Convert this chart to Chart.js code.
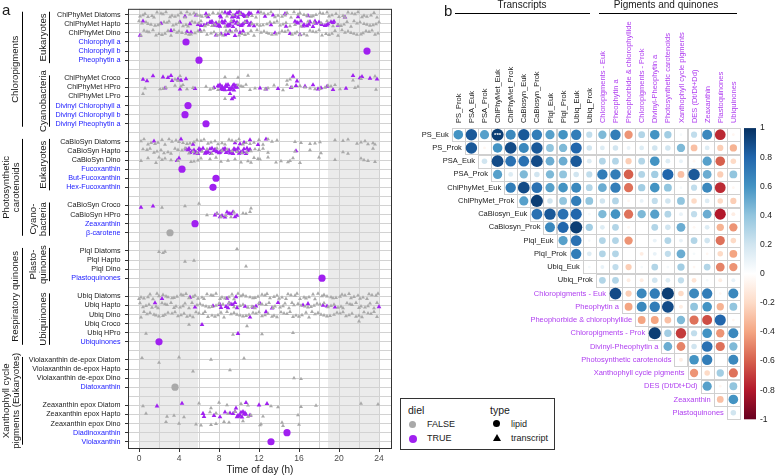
<!DOCTYPE html>
<html>
<head>
<meta charset="utf-8">
<script src="https://cdn.jsdelivr.net/npm/chart.js@4.4.1/dist/chart.umd.min.js"></script>
<style>
  html, body { margin: 0; padding: 0; background: #fff; }
  #wrap { position: relative; width: 778px; height: 476px; overflow: hidden; font-family: "Liberation Sans", Arial, sans-serif; }
  #cA { position: absolute; left: 0; top: 0; }
  #cB { position: absolute; left: 380px; top: 0; }
  #legend { position: absolute; left: 400px; top: 398px; width: 153px; height: 50px; border: 1px solid #333; background: #fff; z-index: 2; }
  #legend div { position: absolute; white-space: nowrap; line-height: 1; color: #1a1a1a; }
  #legend .ttl { font-size: 10.5px; }
  #legend .itm { font-size: 9px; }
  #legend .dot { position: absolute; border-radius: 50%; }
  #legend .tri { position: absolute; width: 0; height: 0; border-left: 4px solid transparent; border-right: 4px solid transparent; border-bottom: 7px solid #000; }
</style>
</head>
<body>
<div id="wrap">
  <canvas id="cA" width="400" height="476"></canvas>
  <canvas id="cB" width="398" height="476"></canvas>
  <div id="legend">
    <div class="ttl" style="left:7px;top:6px">diel</div>
    <span class="dot" style="left:8px;top:22px;width:7px;height:7px;background:#a9a9a9"></span>
    <div class="itm" style="left:26px;top:21px">FALSE</div>
    <span class="dot" style="left:8px;top:36px;width:8px;height:8px;background:#a020f0"></span>
    <div class="itm" style="left:26px;top:35px">TRUE</div>
    <div class="ttl" style="left:89px;top:6px">type</div>
    <span class="dot" style="left:92px;top:21px;width:7px;height:7px;background:#000"></span>
    <div class="itm" style="left:110px;top:21px">lipid</div>
    <span class="tri" style="left:92px;top:35px"></span>
    <div class="itm" style="left:110px;top:35px">transcript</div>
  </div>
</div>
<script>
// ---------- panel a: rows (blank = spacer between groups) ----------
const rowLabels = [
  'ChlPhyMet Diatoms', 'ChlPhyMet Hapto', 'ChlPhyMet Dino', 'Chlorophyll a', 'Chlorophyll b', 'Pheophytin a', '',
  'ChlPhyMet Croco', 'ChlPhyMet HPro', 'ChlPhyMet LPro', 'Divinyl Chlorophyll a', 'Divinyl Chlorophyll b', 'Divinyl Pheophytin a', '',
  'CaBioSyn Diatoms', 'CaBioSyn Hapto', 'CaBioSyn Dino', 'Fucoxanthin', 'But-Fucoxanthin', 'Hex-Fucoxanthin', '',
  'CaBioSyn Croco', 'CaBioSyn HPro', 'Zeaxanthin', 'β-carotene', '',
  'PlqI Diatoms', 'PlqI Hapto', 'PlqI Dino', 'Plastoquinones', '',
  'Ubiq Diatoms', 'Ubiq Hapto', 'Ubiq Dino', 'Ubiq Croco', 'Ubiq HPro', 'Ubiquinones', '',
  'Violaxanthin de-epox Diatom', 'Violaxanthin de-epox Hapto', 'Violaxanthin de-epox Dino', 'Diatoxanthin', '',
  'Zeaxanthin epox Diatom', 'Zeaxanthin epox Hapto', 'Zeaxanthin epox Dino', 'Diadinoxanthin', 'Violaxanthin'
];
const xTicks = [0, 2, 4, 6, 8, 10, 12, 14, 16, 18, 20, 22, 24];
const nightBands = [[0, 5.9], [18.9, 24]];

// lipids (one measurement per compound): time of peak, diel flag
const lipidNames = ['Chlorophyll a', 'Chlorophyll b', 'Pheophytin a', 'Divinyl Chlorophyll a', 'Divinyl Chlorophyll b',
  'Divinyl Pheophytin a', 'Fucoxanthin', 'But-Fucoxanthin', 'Hex-Fucoxanthin', 'Zeaxanthin', 'β-carotene',
  'Plastoquinones', 'Ubiquinones', 'Diatoxanthin', 'Diadinoxanthin', 'Violaxanthin'];
const lipidTimes = [4.7, 22.8, 6.0, 4.9, 4.6, 6.7, 4.3, 7.7, 7.4, 5.6, 3.1, 18.3, 2.0, 3.6, 14.8, 13.2];
const lipidDiel = [true, true, true, true, true, true, true, true, true, true, false, true, true, false, true, true];

// transcripts: peak times, F = not diel (grey), T = diel (purple)
const chlDiatomsF = [0.1,0.4,0.6,0.9,1.3,1.5,1.8,2.2,2.4,2.7,3.1,3.3,3.6,3.9,4.2,4.6,4.8,5.1,5.5,5.8,6.1,6.3,6.7,7.0,7.4,7.9,8.3,8.8,9.4,10.1,10.8,11.3,11.7,12.2,12.5,12.9,13.2,13.6,13.9,14.3,14.6,14.8,15.2,15.5,15.9,16.1,16.5,16.8,17.2,17.4,17.7,18.1,18.4,18.8,19.0,19.3,19.7,20.0,20.4,20.6,20.9,21.3,21.6,21.9,22.3,22.5,22.8,23.2,23.5,23.8];
const chlDiatomsT = [4.6,5.7,6.7,6.9,8.1,8.2,8.6,8.9,9.0,9.1,9.3,9.4,9.5,9.6,9.8,9.9,10.0,10.1,10.2,10.4,10.5,10.6,10.8,10.9,11.0,11.2,11.9,12.6,13.4,14.6,15.9,16.9,20.6];
const chlHaptoF = [0.0,0.3,0.7,0.9,1.2,1.6,1.9,2.1,2.5,2.8,3.0,3.4,3.7,4.0,4.4,4.7,4.9,5.3,5.6,6.0,6.2,6.6,6.9,7.3,7.6,8.0,8.6,9.2,9.9,10.6,11.3,11.8,12.1,12.4,12.8,13.1,13.5,13.8,14.1,14.4,14.7,15.1,15.6,16.2,16.9,17.5,18.2,18.8,19.4,19.9,20.2,20.5,20.8,21.2,21.5,21.8,22.1,22.5,22.8,23.1,23.4,23.7,24.0];
const chlHaptoT = [0.4,2.2,4.1,5.1,5.9,6.2,6.5,6.8,7.1,7.2,7.3,7.5,7.6,7.7,7.9,8.0,8.1,8.3,8.4,8.5,8.6,8.8,8.9,9.0,9.1,9.3,9.4,9.5,9.7,9.8,9.9,10.0,10.2,10.3,10.4,10.6,10.7,10.8,11.0,11.1,11.2,11.5,13.2,14.7,15.6,15.8,15.9,16.2,16.4,16.5,16.8,17.0,17.1,17.4,17.6,17.7,18.0,18.2,18.3,18.6,18.8,18.9,19.2,19.4,19.5,19.9];
const chlDinoF = [0.2,0.5,0.8,1.0,1.4,1.7,2.0,2.3,2.6,2.9,3.2,3.5,3.8,4.0,4.3,4.7,5.0,5.2,5.6,5.9,6.2,6.5,6.8,7.2,7.5,7.8,8.1,8.4,8.7,9.0,9.3,9.7,10.0,10.3,10.6,10.9,11.2,11.5,11.8,12.2,12.5,12.8,13.0,13.3,13.7,14.0,14.3,14.6,14.9,15.3,15.6,15.8,16.1,16.5,16.8,17.1,17.4,17.7,18.0,18.3,18.7,19.0,19.3,19.6,19.9,20.3,20.6,20.9,21.2,21.5,21.8,22.2,22.4,22.7,23.0,23.3,23.6,23.9];
const chlDinoT = [0.1,3.2,4.8,5.2,6.1,7.7,8.2,8.6,8.9,9.1,9.6,9.7,10.1,10.4,13.6,15.1,16.1];
const chlCrocoF = [3.6,3.9,4.1,8.6,9.9,10.9,14.8,15.1,21.4,22.2,23.6];
const chlCrocoT = [0.4,0.8,1.4,2.4,2.9,3.2,3.3,3.9,4.2,4.7,15.4,15.8,21.4,22.1,22.3,23.1,23.8];
const chlHProF = [0.6,2.1,2.4,2.7,3.6,4.2,4.4,4.8,5.4,6.7,7.1,7.4,7.9,9.9,10.2,10.4,10.7,11.1,11.6,12.6,12.9,13.5,14.4,14.8,15.3,16.1,16.6,17.1,17.6,18.1,18.6,18.9,19.2,19.6,20.1,21.6,21.9,23.7];
const chlHProT = [2.6,4.1,5.6,7.5,7.9,8.0,8.1,8.2,8.3,8.3,8.4,8.5,8.6,8.7,8.7,8.8,8.9,9.0,9.1,9.2,9.3,9.4,9.5,9.5,9.6,9.7,9.8,12.1,12.7,13.9,15.2,15.7,16.6,17.4,17.9,18.2,18.8,19.4,20.7];
const chlLProF = [0.4, 8.6];
const chlLProT = [9.1, 9.3, 9.5];
const caDiatomsF = [0.2,0.5,0.9,1.2,1.6,1.9,2.3,2.6,3.0,3.3,3.7,4.0,4.4,4.8,5.1,5.5,5.8,6.2,6.5,6.9,7.2,7.6,7.9,8.3,8.6,9.0,9.3,9.7,10.0,10.4,10.7,11.1,11.5,12.0,12.4,12.9,13.3,13.8,15.6,16.2,17.1,17.6,18.1,19.6,20.4,20.9,21.8,22.2,22.6,22.9,23.4,23.6];
const caDiatomsT = [1.5,4.2,5.4,9.6,10.1,10.5,11.1,11.9,12.7];
const caHaptoF = [0.4,0.8,1.1,1.5,1.8,2.2,2.5,2.9,3.2,3.6,3.9,4.3,4.6,5.0,5.4,5.8,6.3,6.8,7.3,7.8,8.3,8.8,9.3,9.8,10.3,10.8,11.2,11.6,12.0,12.4,12.9,15.6,17.1,18.2,20.4,20.9,23.4];
const caHaptoT = [4.7,4.9,5.0,5.1,5.3,5.5,5.6,5.7,5.9,6.0,6.1,6.2,6.4,6.6,6.7,6.8,6.9,7.1,7.2,7.3,7.5,7.6,7.7,7.8,8.0,8.1,8.2,8.4,8.5,8.6,8.7,8.9,9.0,9.1,9.3,9.4,9.5,9.6,9.8,9.9,10.0,10.2,10.3,10.4,10.5,10.7,10.8,10.9,11.1,15.7];
const caDinoF = [0.2,0.9,1.7,2.0,2.3,2.6,3.2,3.9,5.2,5.5,5.9,6.2,7.1,7.7,8.2,8.9,9.6,10.2,10.9,11.2,11.5,11.9,12.1,12.9,13.7,14.2,14.9,15.1,15.4,16.1,18.0,19.6,22.2,22.5,22.9,23.6];
const caDinoT = [3.8, 4.0];
const caCrocoF = [2.3, 4.6, 6.0, 11.2];
const caCrocoT = [0.2, 1.4];
const caHProF = [6.8, 7.8, 8.2, 8.7, 9.2, 9.5, 10.4, 10.7, 11.1];
const caHProT = [7.6, 7.8, 8.1, 8.3, 8.6, 8.8, 9.0, 9.2, 9.4, 9.6, 9.8];
const plqDiatomsF = [2.0, 2.4, 2.6, 9.8];
const plqHaptoF = [4.6, 5.5];
const plqDinoF = [10.7];
const ubiqDiatomsF = [0.0,0.2,0.5,0.9,1.1,1.4,1.8,2.0,2.4,2.7,2.9,3.3,3.5,3.8,4.2,4.4,4.7,5.0,5.4,5.6,5.9,6.3,6.5,6.8,7.2,7.4,7.7,8.1,8.3,8.6,9.0,9.3,9.5,9.9,10.2,10.4,10.7,11.1,11.4,11.6,11.9,12.3,12.6,12.8,13.1,13.5,13.8,14.0,14.3,14.7,14.9,15.2,15.6,15.8,16.1,16.5,16.7,17.0,17.4,17.6,17.9,18.3,18.5,18.8,19.2,19.4,19.7,20.1,20.3,20.6,21.0,21.2,21.5,21.9,22.1,22.4,22.8,23.0,23.3,23.7,23.9];
const ubiqDiatomsT = [2.3, 5.1, 8.8, 9.7];
const ubiqHaptoF = [0.1,0.4,0.7,1.0,1.3,1.7,1.9,2.3,2.6,2.8,3.2,3.5,3.7,4.1,4.4,4.6,5.0,5.3,5.8,6.1,6.4,6.7,7.0,7.3,7.7,8.0,8.4,9.0,9.5,10.1,10.4,10.9,11.3,11.6,12.0,12.3,12.7,13.0,13.4,13.6,14.1,14.4,14.6,15.0,15.3,15.5,15.9,16.2,16.6,16.9,17.2,17.5,17.8,18.1,18.5,18.9,19.2,19.5,19.9,20.2,20.4,20.8,21.1,21.3,21.7,22.0,22.2,22.6,22.9,23.1,23.5,23.8];
const ubiqHaptoT = [1.6,5.6,7.4,8.1,8.2,8.7,8.9,9.0,9.2,9.4,9.6,9.8,10.6,11.4,11.7,12.1,13.3,13.9,16.4,16.9,18.4,18.8,19.6,24.0];
const ubiqDinoF = [0.2,0.5,0.8,1.1,1.5,1.7,2.0,2.4,2.6,2.9,3.3,3.6,3.9,4.2,4.5,4.8,5.1,5.4,5.7,6.0,6.4,6.6,6.9,7.3,7.6,7.9,8.2,8.5,8.8,9.2,9.5,9.8,10.1,10.4,10.7,11.0,11.4,11.7,12.0,12.3,12.6,12.9,13.3,13.5,13.8,14.2,14.5,14.8,15.1,15.4,15.7,16.0,16.3,16.7,17.0,17.3,17.6,17.9,18.2,18.5,18.8,19.1,19.5,19.8,20.1,20.4,20.7,21.0,21.3,21.7,22.0,22.3,22.5,22.9,23.2,23.5,23.8];
const ubiqDinoT = [11.1, 12.7];
const ubiqCrocoF = [5.0, 10.8, 22.0];
const ubiqCrocoT = [6.3];
const ubiqHProF = [0.7, 9.4, 12.3, 15.4];
const ubiqHProT = [9.9];
const vdeDiatomF = [0.3, 2.0, 4.0, 7.2, 10.5];
const vdeHaptoF = [5.4, 9.1];
const vdeDinoF = [15.5, 16.2];
const zepDiatomF = [0.4, 6.0, 7.2, 8.0, 8.8, 10.2, 10.9, 13.2, 13.9, 16.2, 17.7, 22.2, 23.9];
const zepDiatomT = [1.8, 4.3, 9.7, 10.7, 12.0, 12.8];
const zepHaptoF = [0.7, 2.8, 3.5, 4.5, 7.1, 7.7, 8.9, 9.6, 10.9, 11.2, 12.4, 15.9];
const zepHaptoT = [6.4, 6.5, 7.5, 8.1, 8.6, 9.1, 9.4, 9.6, 9.8, 9.9, 10.0, 10.1, 10.2, 10.3, 10.4, 10.5, 10.6, 10.7, 11.1];
const zepDinoF = [2.7, 4.0, 5.7, 6.2, 7.2, 7.7, 8.5, 9.0, 10.4, 12.1, 12.2, 14.3, 14.4, 16.0];

// row name -> [grey, purple]
const transcriptRows = [
  ['ChlPhyMet Diatoms', chlDiatomsF, chlDiatomsT], ['ChlPhyMet Hapto', chlHaptoF, chlHaptoT],
  ['ChlPhyMet Dino', chlDinoF, chlDinoT], ['ChlPhyMet Croco', chlCrocoF, chlCrocoT],
  ['ChlPhyMet HPro', chlHProF, chlHProT], ['ChlPhyMet LPro', chlLProF, chlLProT],
  ['CaBioSyn Diatoms', caDiatomsF, caDiatomsT], ['CaBioSyn Hapto', caHaptoF, caHaptoT],
  ['CaBioSyn Dino', caDinoF, caDinoT], ['CaBioSyn Croco', caCrocoF, caCrocoT],
  ['CaBioSyn HPro', caHProF, caHProT], ['PlqI Diatoms', plqDiatomsF, []],
  ['PlqI Hapto', plqHaptoF, []], ['PlqI Dino', plqDinoF, []],
  ['Ubiq Diatoms', ubiqDiatomsF, ubiqDiatomsT], ['Ubiq Hapto', ubiqHaptoF, ubiqHaptoT],
  ['Ubiq Dino', ubiqDinoF, ubiqDinoT], ['Ubiq Croco', ubiqCrocoF, ubiqCrocoT],
  ['Ubiq HPro', ubiqHProF, ubiqHProT], ['Violaxanthin de-epox Diatom', vdeDiatomF, []],
  ['Violaxanthin de-epox Hapto', vdeHaptoF, []], ['Violaxanthin de-epox Dino', vdeDinoF, []],
  ['Zeaxanthin epox Diatom', zepDiatomF, zepDiatomT], ['Zeaxanthin epox Hapto', zepHaptoF, zepHaptoT],
  ['Zeaxanthin epox Dino', zepDinoF, []]
];

const outerGroups = [
  { lines: ['Chloropigments'], from: 0, to: 12 },
  { lines: ['Photosynthetic', 'carotenoids'], from: 14, to: 24 },
  { lines: ['Respiratory quinones'], from: 26, to: 36 },
  { lines: ['Xanthophyll cycle', 'pigments (Eukaryotes)'], from: 38, to: 47 }
];
const innerGroups = [
  { lines: ['Eukaryotes'], from: 0, to: 5 },
  { lines: ['Cyanobacteria'], from: 7, to: 12 },
  { lines: ['Eukaryotes'], from: 14, to: 19 },
  { lines: ['Cyano-', 'bacteria'], from: 21, to: 24 },
  { lines: ['Plasto-', 'quinones'], from: 26, to: 29 },
  { lines: ['Ubiquinones'], from: 31, to: 36 }
];

// ---------- panel b: correlation matrix (upper triangle, row i starts at column i) ----------
const corrRows = ['PS_Euk', 'PS_Prok', 'PSA_Euk', 'PSA_Prok', 'ChlPhyMet_Euk', 'ChlPhyMet_Prok', 'CaBiosyn_Euk',
  'CaBiosyn_Prok', 'PlqI_Euk', 'PlqI_Prok', 'Ubiq_Euk', 'Ubiq_Prok', 'Chloropigments - Euk', 'Pheophytin a',
  'Pheophorbide & chlorophyllide', 'Chloropigments - Prok', 'Divinyl-Pheophytin a', 'Photosynthetic carotenoids',
  'Xanthophyll cycle pigments', 'DES (Dt/Dt+Dd)', 'Zeaxanthin', 'Plastoquinones'];
const corrCols = ['PS_Prok', 'PSA_Euk', 'PSA_Prok', 'ChlPhyMet_Euk', 'ChlPhyMet_Prok', 'CaBiosyn_Euk', 'CaBiosyn_Prok',
  'PlqI_Euk', 'PlqI_Prok', 'Ubiq_Euk', 'Ubiq_Prok', 'Chloropigments - Euk', 'Pheophytin a',
  'Pheophorbide & chlorophyllide', 'Chloropigments - Prok', 'Divinyl-Pheophytin a', 'Photosynthetic carotenoids',
  'Xanthophyll cycle pigments', 'DES (Dt/Dt+Dd)', 'Zeaxanthin', 'Plastoquinones', 'Ubiquinones'];
const CORR = [
  [0.6,0.85,0.55,0.95,0.65,0.85,0.7,0.55,0.6,0.7,0.25,0.45,0.7,-0.45,0.3,0.6,0.35,0.05,0.25,0.65,-0.75,-0.05],
  [0.85,-0.05,0.6,0.9,0.65,0.85,0.4,0.45,0.8,0.2,0.15,0.2,0.1,0.15,0.2,0.2,0.45,-0.3,0.15,-0.25,-0.35],
  [0.2,0.9,0.75,0.75,0.9,0.5,0.5,0.85,0.15,0.3,0.3,-0.25,0.3,0.6,0.15,0.1,-0.05,0.55,-0.6,-0.2],
  [0.55,0.15,0.45,0.2,0.45,0.4,0.2,0.25,0.7,0.7,-0.6,0.3,0.35,0.8,-0.3,0.85,0.5,-0.25,0.4],
  [0.7,0.9,0.75,0.55,0.6,0.65,0.3,0.5,0.7,-0.55,0.35,0.6,0.4,0.05,0.25,0.65,-0.75,-0.05],
  [0.55,0.95,0.2,0.4,0.7,0.4,0.2,0.3,-0.05,0.1,0.25,0.2,0.4,-0.2,0.15,-0.2,-0.25],
  [0.75,0.85,0.75,0.8,0.05,0.45,0.6,-0.55,0.45,0.55,0.3,0.1,0.25,0.5,-0.8,-0.1],
  [0.65,0.8,0.95,0.35,0.15,0.3,-0.05,0,0.3,0.2,0.5,-0.05,0.15,-0.35,-0.45],
  [0.55,0.75,0.05,0.3,0.3,-0.45,0,0.1,0.3,0.1,0.3,0.2,-0.55,-0.2],
  [0.7,0.15,0.3,0.3,0,-0.1,0.1,0.25,0.5,0.05,-0.05,-0.2,-0.4],
  [0.05,0.1,0.25,-0.25,0.05,0.3,0.05,0.35,-0.05,0.3,-0.5,-0.45],
  [0.3,0.3,-0.1,-0.1,0.2,0.15,0.25,-0.15,0.05,-0.1,0.1],
  [0.9,-0.25,0.65,0.7,0.95,-0.2,0.65,0.7,-0.05,0.65],
  [-0.4,0.65,0.7,0.9,-0.1,0.4,0.6,-0.35,0.4],
  [-0.4,-0.4,-0.3,0.45,-0.55,-0.65,0.8,-0.05],
  [0.95,0.35,-0.7,0.25,0.6,-0.45,0.65],
  [0.5,-0.5,0.2,0.75,-0.55,0.45],
  [-0.1,0.6,0.7,0,0.65],
  [-0.45,-0.2,0.35,-0.55],
  [0.55,-0.05,0.4],
  [-0.3,0.6],
  [0.2]
];
const colorbarTicks = [1, 0.8, 0.6, 0.4, 0.2, 0, -0.2, -0.4, -0.6, -0.8, -1];

// ---------- styling ----------
var GREY = '#a9a9a9', PURPLE = '#a020f0', BLUE = '#2020ff', INK = '#1a1a1a', PINK_TXT = '#b040f0';
var FONT = '"Liberation Sans", Arial, sans-serif';
var OFFB = 380; // page x of panel b canvas
// fixed vertical jitter pattern (in row units), like geom_jitter
var JITTER = [0.18,-0.22,0.05,0.3,-0.1,-0.3,0.24,-0.04,0.12,-0.18,0.28,0.0,-0.26,0.09,-0.14,0.2,-0.08,0.15,-0.3,0.02,0.26,-0.2,0.1,-0.12,0.22,-0.27,0.07];
var RDBU = ['#67001F','#B2182B','#D6604D','#F4A582','#FDDBC7','#FFFFFF','#D1E5F0','#92C5DE','#4393C3','#2166AC','#053061'];

function hexRgb(h) { return [1, 3, 5].map(i => parseInt(h.substr(i, 2), 16)); }
function rdbu(v) {
    var t = Math.max(0, Math.min(1, (v + 1) / 2)) * 10;
    var i = Math.min(9, Math.floor(t)), f = t - i;
    var a = hexRgb(RDBU[i]), b = hexRgb(RDBU[i + 1]);
    var c = a.map((x, k) => Math.round(x + (b[k] - x) * f));
    return 'rgb(' + c.join(',') + ')';
}

function transcriptPoints(k) {
    var out = [];
    transcriptRows.forEach(function(r) {
        var row = rowLabels.indexOf(r[0]);
        r[k].forEach(function(t, i) {
            out.push({ x: t, y: row + JITTER[(i * 2 + row * 5) % JITTER.length] });
        });
    });
    return out;
}
function lipidPoints(flag) {
    return lipidNames.map((n, i) => ({ x: lipidTimes[i], y: rowLabels.indexOf(n), d: lipidDiel[i] }))
        .filter(p => p.d === flag);
}

function vText(ctx, text, x, y) {
    ctx.save();
    ctx.translate(x, y);
    ctx.rotate(-Math.PI / 2);
    ctx.fillText(text, 0, 0);
    ctx.restore();
}

// shading, frame and the left-hand group brackets
var panelAPlugin = {
    id: 'panelA',
    beforeDraw: function(chart) {
        var ctx = chart.ctx, a = chart.chartArea, x = chart.scales.x;
        ctx.save();
        ctx.fillStyle = '#ebebeb';
        nightBands.forEach(function(b) {
            var x0 = x.getPixelForValue(b[0]), x1 = x.getPixelForValue(b[1]);
            ctx.fillRect(x0, a.top, x1 - x0, a.bottom - a.top);
        });
        ctx.restore();
    },
    afterDraw: function(chart) {
        var ctx = chart.ctx, a = chart.chartArea, y = chart.scales.y;
        ctx.save();
        ctx.strokeStyle = '#333';
        ctx.lineWidth = 1;
        ctx.strokeRect(a.left + 0.5, a.top + 0.5, a.right - a.left - 1, a.bottom - a.top - 1);

        ctx.fillStyle = INK;
        ctx.strokeStyle = '#000';
        ctx.font = '9.6px ' + FONT;
        ctx.textAlign = 'center';
        ctx.textBaseline = 'middle';
        function bracket(g, lineX, oneX, twoX) {
            var y0 = y.getPixelForValue(g.from) - 3, y1 = y.getPixelForValue(g.to) + 3;
            ctx.beginPath();
            ctx.moveTo(lineX, y0);
            ctx.lineTo(lineX, y1);
            ctx.stroke();
            var mid = (y0 + y1) / 2;
            if (g.lines.length === 1) vText(ctx, g.lines[0], oneX, mid);
            else g.lines.forEach((t, i) => vText(ctx, t, twoX[i], mid));
        }
        outerGroups.forEach(g => bracket(g, 22.5, 15, [6, 16]));
        innerGroups.forEach(g => bracket(g, 49.5, 43, [33, 43]));

        ctx.font = '15px ' + FONT;
        ctx.textAlign = 'left';
        ctx.textBaseline = 'alphabetic';
        ctx.fillText('a', 2, 15);
        ctx.restore();
    }
};

new Chart(document.getElementById('cA'), {
    type: 'scatter',
    data: {
        datasets: [
            { data: transcriptPoints(1), pointStyle: 'triangle', pointRadius: 2.3, backgroundColor: GREY, borderWidth: 0 },
            { data: transcriptPoints(2), pointStyle: 'triangle', pointRadius: 2.7, backgroundColor: PURPLE, borderWidth: 0 },
            { data: lipidPoints(false), pointStyle: 'circle', pointRadius: 3.6, backgroundColor: GREY, borderWidth: 0 },
            { data: lipidPoints(true), pointStyle: 'circle', pointRadius: 3.6, backgroundColor: PURPLE, borderWidth: 0 }
        ]
    },
    options: {
        responsive: false,
        animation: false,
        events: [],
        layout: { padding: { top: 8, right: 8, left: 0, bottom: 0 } },
        plugins: { legend: { display: false }, tooltip: { enabled: false } },
        scales: {
            x: {
                type: 'linear', min: -1.1, max: 25.3,
                afterBuildTicks: function(s) { s.ticks = xTicks.map(v => ({ value: v })); },
                afterFit: function(s) { s.height = 27; },
                grid: {
                    color: '#d2d2d2', lineWidth: 1, tickLength: 3,
                    tickColor: c => (c.tick && c.tick.value % 4 === 0) ? '#333' : 'rgba(0,0,0,0)'
                },
                border: { display: false },
                ticks: {
                    padding: 2, color: '#4d4d4d', font: { family: FONT, size: 8.5 },
                    callback: v => (v % 4 === 0 ? String(v) : '')
                },
                title: { display: true, text: 'Time of day (h)', color: INK, font: { family: FONT, size: 10 }, padding: { top: 0, bottom: 0 } }
            },
            y: {
                type: 'linear', min: -0.65, max: 47.8, reverse: true,
                afterBuildTicks: function(s) { s.ticks = rowLabels.map((_, i) => ({ value: i })); },
                afterFit: function(s) { s.width = 128; },
                grid: {
                    color: '#d2d2d2', lineWidth: 1, tickLength: 3,
                    tickColor: c => (c.tick && rowLabels[c.tick.value]) ? '#333' : 'rgba(0,0,0,0)'
                },
                border: { display: false },
                ticks: {
                    autoSkip: false, padding: 4.5, font: { family: FONT, size: 7.2 },
                    color: c => (c.tick && lipidNames.indexOf(rowLabels[c.tick.value]) >= 0) ? BLUE : INK,
                    callback: v => rowLabels[v] || ''
                }
            }
        }
    },
    plugins: [panelAPlugin]
});

// ---------- panel b ----------
var corrPoints = [];
CORR.forEach(function(vals, i) {
    vals.forEach(function(v, k) { corrPoints.push({ x: i + k, y: i, v: v }); });
});

var panelBPlugin = {
    id: 'panelB',
    beforeDatasetsDraw: function(chart) {
        var ctx = chart.ctx, x = chart.scales.x, y = chart.scales.y;
        var cw = x.getPixelForValue(1) - x.getPixelForValue(0);
        var ch = y.getPixelForValue(1) - y.getPixelForValue(0);
        ctx.save();
        ctx.strokeStyle = '#d0d0d0';
        ctx.lineWidth = 1;
        corrPoints.forEach(function(p) {
            var cx = x.getPixelForValue(p.x), cy = y.getPixelForValue(p.y);
            ctx.strokeRect(Math.round(cx - cw / 2) + 0.5, Math.round(cy - ch / 2) + 0.5, Math.round(cw), Math.round(ch));
        });
        ctx.restore();
    },
    afterDraw: function(chart) {
        var ctx = chart.ctx, a = chart.chartArea, x = chart.scales.x, y = chart.scales.y;
        var cw = x.getPixelForValue(1) - x.getPixelForValue(0);
        ctx.save();
        ctx.font = '7.5px ' + FONT;
        ctx.textBaseline = 'middle';

        // row labels sit on the diagonal
        ctx.textAlign = 'right';
        corrRows.forEach(function(r, i) {
            ctx.fillStyle = i < 12 ? INK : PINK_TXT;
            ctx.fillText(r, x.getPixelForValue(i) - cw / 2 - 3, y.getPixelForValue(i));
        });
        // column labels, vertical
        ctx.textAlign = 'left';
        corrCols.forEach(function(c, j) {
            ctx.fillStyle = j < 11 ? INK : PINK_TXT;
            vText(ctx, c, x.getPixelForValue(j) + 0.5, a.top - 5);
        });

        // *** in the strongest cell
        ctx.fillStyle = '#fff';
        ctx.textAlign = 'center';
        ctx.font = 'bold 6px ' + FONT;
        ctx.fillText('***', x.getPixelForValue(3), y.getPixelForValue(0) + 1);

        // headers
        ctx.fillStyle = INK;
        ctx.font = '10px ' + FONT;
        ctx.fillText('Transcripts', 522 - OFFB, 5);
        ctx.fillText('Pigments and quinones', 666 - OFFB, 5);
        ctx.strokeStyle = '#000';
        ctx.lineWidth = 1;
        ctx.beginPath();
        ctx.moveTo(455 - OFFB, 13.5); ctx.lineTo(590 - OFFB, 13.5);
        ctx.moveTo(599 - OFFB, 13.5); ctx.lineTo(737 - OFFB, 13.5);
        ctx.stroke();

        // colour bar
        var top = a.top, bot = a.bottom, bx = 744 - OFFB, bw = 12;
        var g = ctx.createLinearGradient(0, top, 0, bot);
        RDBU.slice().reverse().forEach((c, i) => g.addColorStop(i / 10, c));
        ctx.fillStyle = g;
        ctx.fillRect(bx, top, bw, bot - top);
        ctx.fillStyle = INK;
        ctx.font = '8.6px ' + FONT;
        ctx.textAlign = 'left';
        colorbarTicks.forEach(function(v) {
            ctx.fillText(String(v), 760 - OFFB, top + (1 - v) / 2 * (bot - top));
        });

        ctx.font = '15px ' + FONT;
        ctx.textBaseline = 'alphabetic';
        ctx.fillText('b', 444 - OFFB, 16);
        ctx.restore();
    }
};

new Chart(document.getElementById('cB'), {
    type: 'scatter',
    data: {
        datasets: [{
            data: corrPoints,
            pointStyle: 'circle',
            pointRadius: c => (c.raw ? 6.2 * Math.sqrt(Math.abs(c.raw.v)) : 0),
            backgroundColor: c => (c.raw ? rdbu(c.raw.v) : '#fff'),
            borderWidth: 0
        }]
    },
    options: {
        responsive: false,
        animation: false,
        events: [],
        layout: { padding: { left: 451.75 - OFFB, right: 38.1, top: 128.1, bottom: 56.7 } },
        plugins: { legend: { display: false }, tooltip: { enabled: false } },
        scales: {
            x: { type: 'linear', min: -0.5, max: 21.5, display: false },
            y: { type: 'linear', min: -0.5, max: 21.5, reverse: true, display: false }
        }
    },
    plugins: [panelBPlugin]
});
</script>
</body>
</html>
